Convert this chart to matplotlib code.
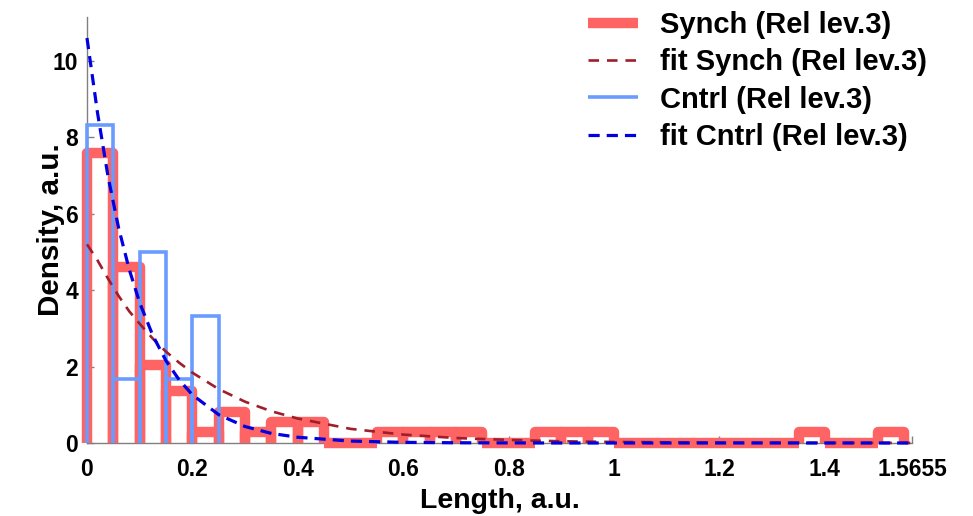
import numpy as np;
import matplotlib.pyplot as plt;
from matplotlib.lines import Line2D;

# Histogram bins are 0.05 wide and start at zero
bin_width = 0.05;

synch_density = [7.6, 4.6, 2.05, 1.35, 0.3, 0.8, 0.28, 0.55, 0.55, 0.0,
                 0.0, 0.28, 0.28, 0.28, 0.28, 0.0, 0.0, 0.28, 0.28, 0.28,
                 0.0, 0.0, 0.0, 0.0, 0.0, 0.0, 0.0, 0.28, 0.0, 0.0, 0.28];
cntrl_density = [8.33, 1.67, 5.0, 1.67, 3.33];

# Exponential fits sampled along the length axis
fit_x = [0, 0.02, 0.04, 0.06, 0.08, 0.1, 0.125, 0.15, 0.175, 0.2, 0.25,
         0.3, 0.35, 0.4, 0.5, 0.6, 0.7, 0.8, 0.9, 1.0, 1.2, 1.4, 1.5655];
fit_synch = [5.2, 4.78, 4.3, 3.85, 3.45, 3.12, 2.73, 2.39, 2.1, 1.84, 1.41,
             1.08, 0.83, 0.64, 0.37, 0.22, 0.13, 0.08, 0.045, 0.027, 0.009, 0.003, 0.001];
fit_cntrl = [10.6, 8.64, 6.97, 5.63, 4.55, 3.67, 2.81, 2.15, 1.65, 1.26, 0.74,
             0.43, 0.25, 0.15, 0.05, 0.017, 0.006, 0.002, 0.0, 0.0, 0.0, 0.0, 0.0];

labels = ["Synch (Rel lev.3)", "fit Synch (Rel lev.3)", "Cntrl (Rel lev.3)", "fit Cntrl (Rel lev.3)"];

x_ticks = [0, 0.2, 0.4, 0.6, 0.8, 1, 1.2, 1.4, 1.5655];
x_tick_labels = ["0", "0.2", "0.4", "0.6", "0.8", "1", "1.2", "1.4", "1.5655"];
y_ticks = [0, 2, 4, 6, 8, 10];
x_max = 1.5655;
y_max = 11.15;

synch_color = "#FF6464";
cntrl_color = "#6A9BFF";
fit_synch_color = "#A01E2A";
fit_cntrl_color = "#0000E0";
axis_color = "#808080";


class LengthPlot:

    @staticmethod
    def Draw():
        plt.rcParams['font.family'] = ['Liberation Sans', 'DejaVu Sans'];
        plt.rcParams['font.weight'] = 'bold';

        fig = plt.figure(figsize=(9.73, 5.16), dpi=100);
        ax = fig.add_axes([0.0894, 0.1415, 0.848, 0.8255]);

        LengthPlot.__Bars(ax, synch_density, synch_color, 7.5, 'round', 2);
        LengthPlot.__Bars(ax, cntrl_density, cntrl_color, 2.6, 'miter', 3);
        ax.plot(fit_x, fit_synch, color=fit_synch_color, lw=1.9, ls=(0, (4, 3)), zorder=4, clip_on=False);
        ax.plot(fit_x, fit_cntrl, color=fit_cntrl_color, lw=2.3, ls=(0, (3.5, 2.2)), zorder=5, clip_on=False);

        ax.set_xlim(0, x_max);
        ax.set_ylim(0, y_max);
        ax.set_xticks(x_ticks);
        ax.set_xticklabels(x_tick_labels);
        ax.set_yticks(y_ticks);

        for side in ['top', 'right']:
            ax.spines[side].set_visible(False);
        for side in ['left', 'bottom']:
            ax.spines[side].set_color(axis_color);
            ax.spines[side].set_linewidth(1.0);
            ax.spines[side].set_zorder(1);

        ax.tick_params(direction='in', length=5, width=1, color=axis_color, labelsize=16.5);
        ax.tick_params(axis='x', pad=11);
        ax.tick_params(axis='y', pad=6.5);

        ax.set_xlabel("Length, a.u.", fontsize=20.5, fontweight='bold', labelpad=4.5);
        ax.set_ylabel("Density, a.u.", fontsize=21.3, fontweight='bold');
        ax.yaxis.set_label_coords(-0.027, 0.5);

        handles = [Line2D([], [], color=synch_color, lw=7.5, solid_capstyle='butt'),
                   Line2D([], [], color=fit_synch_color, lw=1.9, ls=(0, (4, 3))),
                   Line2D([], [], color=cntrl_color, lw=2.6, solid_capstyle='butt'),
                   Line2D([], [], color=fit_cntrl_color, lw=2.3, ls=(0, (3.5, 2.2)))];
        fig.legend(handles, labels, loc='upper left', bbox_to_anchor=(0.6043, 0.979),
                   frameon=False, fontsize=21, handlelength=1.71, handletextpad=0.75,
                   labelspacing=0.32, borderpad=0, borderaxespad=0);

        fig.savefig("out.png", dpi=100);

    @staticmethod
    def __Bars(ax, density, color, lw, join, z):
        # each bin is an open outline: up the left edge, across the top, down the right edge
        for i, h in enumerate(density):
            left = i * bin_width;
            right = left + bin_width;
            ax.plot([left, left, right, right], [0, h, h, 0], color=color, lw=lw,
                    solid_joinstyle=join, solid_capstyle='butt', clip_on=False, zorder=z);


LengthPlot.Draw();
